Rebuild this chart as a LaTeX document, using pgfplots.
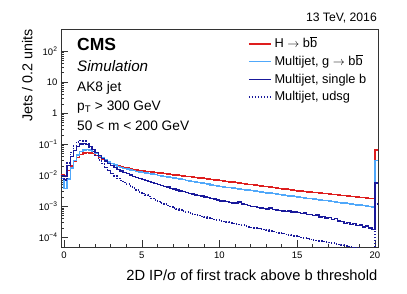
\documentclass[border=0pt]{standalone}
\usepackage{pgfplots}
\pgfplotsset{compat=1.18}
\usepackage{pgfplotstable}
\usetikzlibrary{calc}
\usepackage{fontspec}
\setmainfont{Liberation Sans}
\definecolor{hred}{RGB}{222,30,30}
\definecolor{lblue}{RGB}{80,168,250}
\definecolor{dblue}{RGB}{25,25,155}

\pgfplotstableread{
x y
-0.2 0.0105
0.0 0.0095
0.2 0.0140
0.4 0.0200
0.6 0.0290
0.8 0.0380
1.0 0.0460
1.2 0.0520
1.4 0.0545
1.6 0.0530
1.8 0.0495
2.0 0.0440
2.2 0.0380
2.4 0.0330
2.6 0.0290
2.8 0.0260
3.0 0.0235
3.2 0.0215
3.4 0.0200
3.6 0.0189
3.8 0.0179
4.0 0.0171
4.2 0.0163
4.4 0.0156
4.6 0.0149
4.8 0.0143
5.0 0.01380
5.2 0.01343
5.4 0.01303
5.6 0.01268
5.8 0.01230
6.0 0.01197
6.2 0.01164
6.4 0.01130
6.6 0.01099
6.8 0.01069
7.0 0.01038
7.2 0.01009
7.4 0.00982
7.6 0.00955
7.8 0.00927
8.0 0.00902
8.2 0.00875
8.4 0.00851
8.6 0.00828
8.8 0.00804
9.0 0.00782
9.2 0.00759
9.4 0.00738
9.6 0.00716
9.8 0.00697
10.0 0.00676
10.2 0.00656
10.4 0.00637
10.6 0.00617
10.8 0.00598
11.0 0.00581
11.2 0.00564
11.4 0.00547
11.6 0.00530
11.8 0.00514
12.0 0.00499
12.2 0.00484
12.4 0.00470
12.6 0.00455
12.8 0.00442
13.0 0.00429
13.2 0.00416
13.4 0.00404
13.6 0.00391
13.8 0.00379
14.0 0.00368
14.2 0.00357
14.4 0.00347
14.6 0.00336
14.8 0.00326
15.0 0.00316
15.2 0.00309
15.4 0.00301
15.6 0.00294
15.8 0.00287
16.0 0.00281
16.2 0.00274
16.4 0.00267
16.6 0.00261
16.8 0.00255
17.0 0.00249
17.2 0.00243
17.4 0.00237
17.6 0.00232
17.8 0.00226
18.0 0.00221
18.2 0.00216
18.4 0.00210
18.6 0.00206
18.8 0.00200
19.0 0.00196
19.2 0.00191
19.4 0.00187
19.6 0.00182
19.8 0.00178
20.0 0.0640
20.2 0.0640
}\tabred

\pgfplotstableread{
x y
-0.2 0.0080
0.0 0.0038
0.2 0.0075
0.4 0.0170
0.6 0.0300
0.8 0.0450
1.0 0.0580
1.2 0.0660
1.4 0.0680
1.6 0.0650
1.8 0.0580
2.0 0.0500
2.2 0.0420
2.4 0.0355
2.6 0.0305
2.8 0.0265
3.0 0.0235
3.2 0.0212
3.4 0.0195
3.6 0.0180
3.8 0.0168
4.0 0.0157
4.2 0.0148
4.4 0.0140
4.6 0.0133
4.8 0.0127
5.0 0.01230
5.2 0.01180
5.4 0.01132
5.6 0.01086
5.8 0.01042
6.0 0.01000
6.2 0.00959
6.4 0.00920
6.6 0.00883
6.8 0.00847
7.0 0.00813
7.2 0.00780
7.4 0.00748
7.6 0.00718
7.8 0.00689
8.0 0.00661
8.2 0.00634
8.4 0.00608
8.6 0.00583
8.8 0.00560
9.0 0.00537
9.2 0.00515
9.4 0.00494
9.6 0.00474
9.8 0.00455
10.0 0.00437
10.2 0.00423
10.4 0.00410
10.6 0.00397
10.8 0.00385
11.0 0.00373
11.2 0.00361
11.4 0.00351
11.6 0.00340
11.8 0.00330
12.0 0.00319
12.2 0.00309
12.4 0.00300
12.6 0.00290
12.8 0.00282
13.0 0.00273
13.2 0.00264
13.4 0.00256
13.6 0.00248
13.8 0.00241
14.0 0.00233
14.2 0.00226
14.4 0.00219
14.6 0.00212
14.8 0.00206
15.0 0.00200
15.2 0.00194
15.4 0.00188
15.6 0.00182
15.8 0.00177
16.0 0.00171
16.2 0.00166
16.4 0.00161
16.6 0.00156
16.8 0.00152
17.0 0.00147
17.2 0.00143
17.4 0.00139
17.6 0.00134
17.8 0.00130
18.0 0.00126
18.2 0.00123
18.4 0.00119
18.6 0.00115
18.8 0.00112
19.0 0.00109
19.2 0.00105
19.4 0.00102
19.6 0.00099
19.8 0.00096
20.0 0.0300
20.2 0.0300
}\tablblue

\pgfplotstableread{
x y
-0.2 0.0098
0.0 0.0090
0.2 0.0210
0.4 0.0400
0.6 0.0620
0.8 0.0850
1.0 0.1000
1.2 0.1050
1.4 0.0970
1.6 0.0830
1.8 0.0680
2.0 0.0540
2.2 0.0430
2.4 0.0345
2.6 0.0285
2.8 0.0240
3.0 0.0205
3.2 0.0178
3.4 0.0156
3.6 0.0139
3.8 0.0125
4.0 0.0113
4.2 0.0102
4.4 0.0093
4.6 0.0085
4.8 0.0078
5.0 0.00724
5.2 0.00676
5.4 0.00631
5.6 0.00582
5.8 0.00543
6.0 0.00501
6.2 0.00468
6.4 0.00437
6.6 0.00412
6.8 0.00380
7.0 0.00355
7.2 0.00339
7.4 0.00316
7.6 0.00295
7.8 0.00282
8.0 0.00263
8.2 0.00251
8.4 0.00234
8.6 0.00224
8.8 0.00214
9.0 0.00200
9.2 0.00191
9.4 0.00178
9.6 0.00170
9.8 0.00162
10.0 0.00151
10.2 0.00148
10.4 0.00141
10.6 0.00135
10.8 0.00129
11.0 0.00126
11.2 0.00138
11.4 0.00120
11.6 0.00115
11.8 0.00105
12.0 0.00100
12.2 0.00098
12.4 0.00091
12.6 0.00089
12.8 0.00085
13.0 0.00083
13.2 0.00087
13.4 0.00079
13.6 0.00076
13.8 0.00074
14.0 0.00072
14.2 0.00068
14.4 0.00071
14.6 0.00065
14.8 0.00066
15.0 0.00063
15.2 0.00058
15.4 0.00060
15.6 0.00054
15.8 0.00055
16.0 0.00050
16.2 0.00052
16.4 0.00046
16.6 0.00047
16.8 0.00042
17.0 0.00043
17.2 0.00038
17.4 0.00040
17.6 0.00034
17.8 0.00032
18.0 0.00028
18.2 0.00030
18.4 0.00026
18.6 0.00028
18.8 0.00024
19.0 0.00025
19.2 0.00022
19.4 0.00023
19.6 0.00020
19.8 0.00018
20.0 0.0057
20.2 0.0057
}\tabdblue

\pgfplotstableread{
x y
-0.2 0.0080
0.0 0.0070
0.2 0.0250
0.4 0.0550
0.6 0.0900
0.8 0.1200
1.0 0.1330
1.2 0.1250
1.4 0.1050
1.6 0.0800
1.8 0.0590
2.0 0.0430
2.2 0.0310
2.4 0.0235
2.6 0.0180
2.8 0.0142
3.0 0.0114
3.2 0.0094
3.4 0.0079
3.6 0.0068
3.8 0.0059
4.0 0.0052
4.2 0.0045
4.4 0.0039
4.6 0.0034
4.8 0.0029
5.0 0.00260
5.2 0.00230
5.4 0.00205
5.6 0.00180
5.8 0.00160
6.0 0.00142
6.2 0.00128
6.4 0.00117
6.6 0.00106
6.8 0.00098
7.0 0.00089
7.2 0.00082
7.4 0.00076
7.6 0.00071
7.8 0.00065
8.0 0.00060
8.2 0.00057
8.4 0.00054
8.6 0.00050
8.8 0.00047
9.0 0.00045
9.2 0.00042
9.4 0.00040
9.6 0.00038
9.8 0.00036
10.0 0.00034
10.2 0.00032
10.4 0.00031
10.6 0.00030
10.8 0.00028
11.0 0.00027
11.2 0.00026
11.4 0.00025
11.6 0.00023
11.8 0.00022
12.0 0.00021
12.2 0.000204
12.4 0.000195
12.6 0.000186
12.8 0.000178
13.0 0.000170
13.2 0.000162
13.4 0.000155
13.6 0.000146
13.8 0.000140
14.0 0.000132
14.2 0.000126
14.4 0.000120
14.6 0.000115
14.8 0.000110
15.0 0.000105
15.2 0.000100
15.4 0.000095
15.6 0.000091
15.8 0.000087
16.0 0.000083
16.2 0.000079
16.4 0.000077
16.6 0.000073
16.8 0.000071
17.0 0.000068
17.2 0.000065
17.4 0.000062
17.6 0.000059
17.8 0.000056
18.0 0.000054
18.2 0.000051
18.4 0.000049
18.6 0.000047
18.8 0.000045
19.0 0.000043
19.2 0.000041
19.4 0.000039
19.6 0.000037
19.8 0.000035
20.0 0.0012
20.2 0.0012
}\tabudsg

\begin{document}
\begin{tikzpicture}
\begin{axis}[
  name=ax,
  scale only axis,
  width=317pt, height=218pt,
  ymode=log,
  xmin=-0.2, xmax=20.2,
  ymin=4.8e-5, ymax=500,
  axis line style={line width=0.6pt, black!80},
  tick align=inside,
  tick pos=left,
  major tick length=7pt,
  minor tick length=3.5pt,
  every tick/.style={black!80, line width=0.5pt},
  xtick={0,5,10,15,20},
  xticklabels={0,5,10,15,20},
  minor x tick num=4,
  ytick={1e-4,1e-3,1e-2,1e-1,1,10,100},
  yticklabels={10\textsuperscript{−4},10\textsuperscript{−3},10\textsuperscript{−2},10\textsuperscript{−1},1,10,10\textsuperscript{2}},
  ticklabel style={font=\fontsize{9.5}{11}\selectfont},
  xticklabel style={yshift=-1pt},
  legend style={
    at={(rel axis cs:0.590,0.973)}, anchor=north west,
    draw=none, fill=none, inner sep=0pt, outer sep=0pt,
    row sep=0pt, column sep=3pt,
    font=\fontsize{12.8}{14}\selectfont,
    nodes={inner sep=0pt, text height=12.7pt, text depth=5pt},
    cells={anchor=west},
  },
  legend image code/.code={\draw[#1] (0pt,0pt) -- (22pt,0pt);},
]
\addplot[const plot mark left, hred, line width=1.5pt] table[x=x,y=y] \tabred;
\addlegendentry{H $\rightarrow$ b$\overline{\mbox{b}}$}
\addplot[const plot mark left, lblue, line width=1.5pt] table[x=x,y=y] \tablblue;
\addlegendentry{Multijet, g $\rightarrow$ b$\overline{\mbox{b}}$}
\addplot[const plot mark left, dblue, line width=1.5pt] table[x=x,y=y] \tabdblue;
\addlegendentry{Multijet, single b}
\addplot[const plot mark left, dblue, line width=1.5pt, dash pattern=on 1.5pt off 1.5pt] table[x=x,y=y] \tabudsg;
\addlegendentry{Multijet, udsg}
\end{axis}
\node[anchor=base west, inner sep=0pt, font=\fontsize{17.5}{20}\selectfont\bfseries] at ($(ax.south west)+(16pt,196.8pt)$) {CMS};
\node[anchor=base west, inner sep=0pt, font=\fontsize{15.2}{18}\selectfont\itshape] at ($(ax.south west)+(16pt,176.3pt)$) {Simulation};
\node[anchor=base west, inner sep=0pt, font=\fontsize{13.7}{16}\selectfont] at ($(ax.south west)+(16pt,155.6pt)$) {AK8 jet};
\node[anchor=base west, inner sep=0pt, font=\fontsize{13.7}{16}\selectfont] at ($(ax.south west)+(16pt,136.6pt)$) {p\textsubscript{T} > 300 GeV};
\node[anchor=base west, inner sep=0pt, font=\fontsize{13.7}{16}\selectfont] at ($(ax.south west)+(16pt,116.6pt)$) {50 < m < 200 GeV};
\node[anchor=base east, inner sep=0pt, font=\fontsize{12.2}{14}\selectfont] at ($(ax.north east)+(-1pt,7.5pt)$) {13 TeV, 2016};
\node[anchor=base east, inner sep=0pt, font=\fontsize{14.7}{17}\selectfont] at ($(ax.south east)+(-0.5pt,-32.7pt)$) {2D IP/σ of first track above b threshold};
\node[anchor=base east, inner sep=0pt, rotate=90, font=\fontsize{14.3}{17}\selectfont] at ($(ax.north west)+(-28.5pt,0pt)$) {Jets / 0.2 units};
\pgfresetboundingbox
\path ($(ax.south west)+(-61pt,-45.7pt)$) rectangle ++(407pt,293pt);
\end{tikzpicture}
\end{document}
